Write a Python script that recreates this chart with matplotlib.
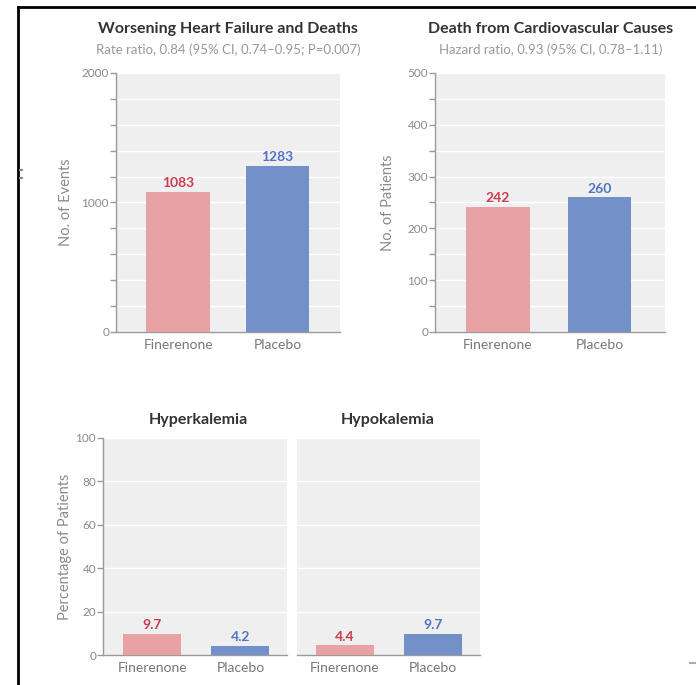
import matplotlib
matplotlib.use("Agg")
import matplotlib.pyplot as plt
from matplotlib.lines import Line2D
from matplotlib.ticker import MultipleLocator

plt.rcParams['font.family'] = ['Lato', 'DejaVu Sans']

groups = ["Finerenone", "Placebo"]
whf_events = [1083, 1283]
cv_deaths = [242, 260]
hyperkalemia = [9.7, 4.2]
hypokalemia = [4.4, 9.7]
value_labels = [["1083", "1283"], ["242", "260"], ["9.7", "4.2"], ["4.4", "9.7"]]

bar_colors = ["#e8a2a3", "#7490c8"]
text_colors = ["#cc3b4f", "#4f74c8"]
bg = "#efefef"
axis_gray = "#9a9a9a"
tick_gray = "#8a8a8a"

W, H = 696, 685
fig = plt.figure(figsize=(W / 100, H / 100), dpi=100)


def rect(l, r, t, b):
    return [l / W, 1 - b / H, (r - l) / W, (b - t) / H]


def style(ax, ymax, major, minor, xlim, ylabel=None, label_x=None, show_y=True):
    ax.set_facecolor(bg)
    ax.set_xlim(*xlim)
    ax.set_ylim(0, ymax)
    for s in ["top", "right"]:
        ax.spines[s].set_visible(False)
    ax.spines["bottom"].set_color(axis_gray)
    ax.spines["bottom"].set_linewidth(1.0)
    ax.yaxis.set_major_locator(MultipleLocator(major))
    ax.yaxis.set_minor_locator(MultipleLocator(minor))
    if show_y:
        ax.spines["left"].set_color(axis_gray)
        ax.spines["left"].set_linewidth(1.0)
        ax.tick_params(axis="y", which="both", colors=axis_gray, labelcolor=tick_gray,
                       labelsize=8.5, length=4, width=1, pad=1)
    else:
        ax.spines["left"].set_visible(False)
        ax.tick_params(axis="y", which="both", left=False, labelleft=False)
    ax.grid(True, axis="y", which="both", color="white", linewidth=1.0)
    ax.set_axisbelow(True)
    ax.tick_params(axis="x", length=0, labelsize=10, labelcolor="#777777", pad=5)
    if ylabel:
        ax.set_ylabel(ylabel, fontsize=10.5, color=tick_gray)
        pos = ax.get_position()
        ax.yaxis.set_label_coords((label_x / W - pos.x0) / pos.width, 0.5)


def bars(ax, vals, labels, width, off):
    x = range(len(groups))
    ax.bar(x, vals, width=width, color=bar_colors, zorder=3)
    ax.set_xticks(list(x))
    ax.set_xticklabels(groups)
    for i, v in enumerate(vals):
        ax.annotate(labels[i], (i, v), xytext=(0, off), textcoords="offset points",
                    ha="center", va="bottom", fontsize=10, color=text_colors[i],
                    fontweight="bold")


# Panel 1
ax1 = fig.add_axes(rect(116, 340, 73, 332))
style(ax1, 2000, 1000, 200, (-0.625, 1.628), "No. of Events", 73)
bars(ax1, whf_events, value_labels[0], 0.64, 2)

# Panel 2
ax2 = fig.add_axes(rect(435, 665, 73, 332))
style(ax2, 500, 100, 50, (-0.62, 1.645), "No. of Patients", 395)
bars(ax2, cv_deaths, value_labels[1], 0.63, 2)

# Panel 3
ax3 = fig.add_axes(rect(103, 287, 438, 655))
style(ax3, 100, 20, 20, (-0.5625, 1.53), "Percentage of Patients", 72)
bars(ax3, hyperkalemia, value_labels[2], 0.66, 2)

# Panel 4
ax4 = fig.add_axes(rect(297, 480, 438, 655))
style(ax4, 100, 20, 20, (-0.545, 1.534), None, show_y=False)
bars(ax4, hypokalemia, value_labels[3], 0.66, 2)


def ftext(x, y, s, **kw):
    fig.text(x / W, 1 - y / H, s, ha="center", va="center", **kw)


ftext(228, 29, "Worsening Heart Failure and Deaths", fontsize=11.5, fontweight="bold", color="#333333")
ftext(228, 50, "Rate ratio, 0.84 (95% CI, 0.74–0.95; P=0.007)", fontsize=9.5, color="#999999")
ftext(551, 29, "Death from Cardiovascular Causes", fontsize=11.5, fontweight="bold", color="#333333")
ftext(551, 50, "Hazard ratio, 0.93 (95% CI, 0.78–1.11)", fontsize=9.5, color="#999999")
ftext(198, 420, "Hyperkalemia", fontsize=11.5, fontweight="bold", color="#333333")
ftext(388, 420, "Hypokalemia", fontsize=11.5, fontweight="bold", color="#333333")

# Black frame (top and left)
fig.add_artist(Line2D([18 / W, 18 / W], [0, 1 - 7 / H], color="black", lw=2, transform=fig.transFigure))
fig.add_artist(Line2D([18 / W, 1], [1 - 7 / H, 1 - 7 / H], color="black", lw=2, transform=fig.transFigure))

# small scanning marks near edges
for yy in (170, 178):
    fig.add_artist(Line2D([20 / W, 22 / W], [1 - yy / H] * 2, color="#888888", lw=1.5,
                          transform=fig.transFigure))
fig.add_artist(Line2D([690 / W, 1], [1 - 663 / H] * 2, color="#aaaaaa", lw=1.5,
                      transform=fig.transFigure))

fig.savefig("out.png", dpi=100)
